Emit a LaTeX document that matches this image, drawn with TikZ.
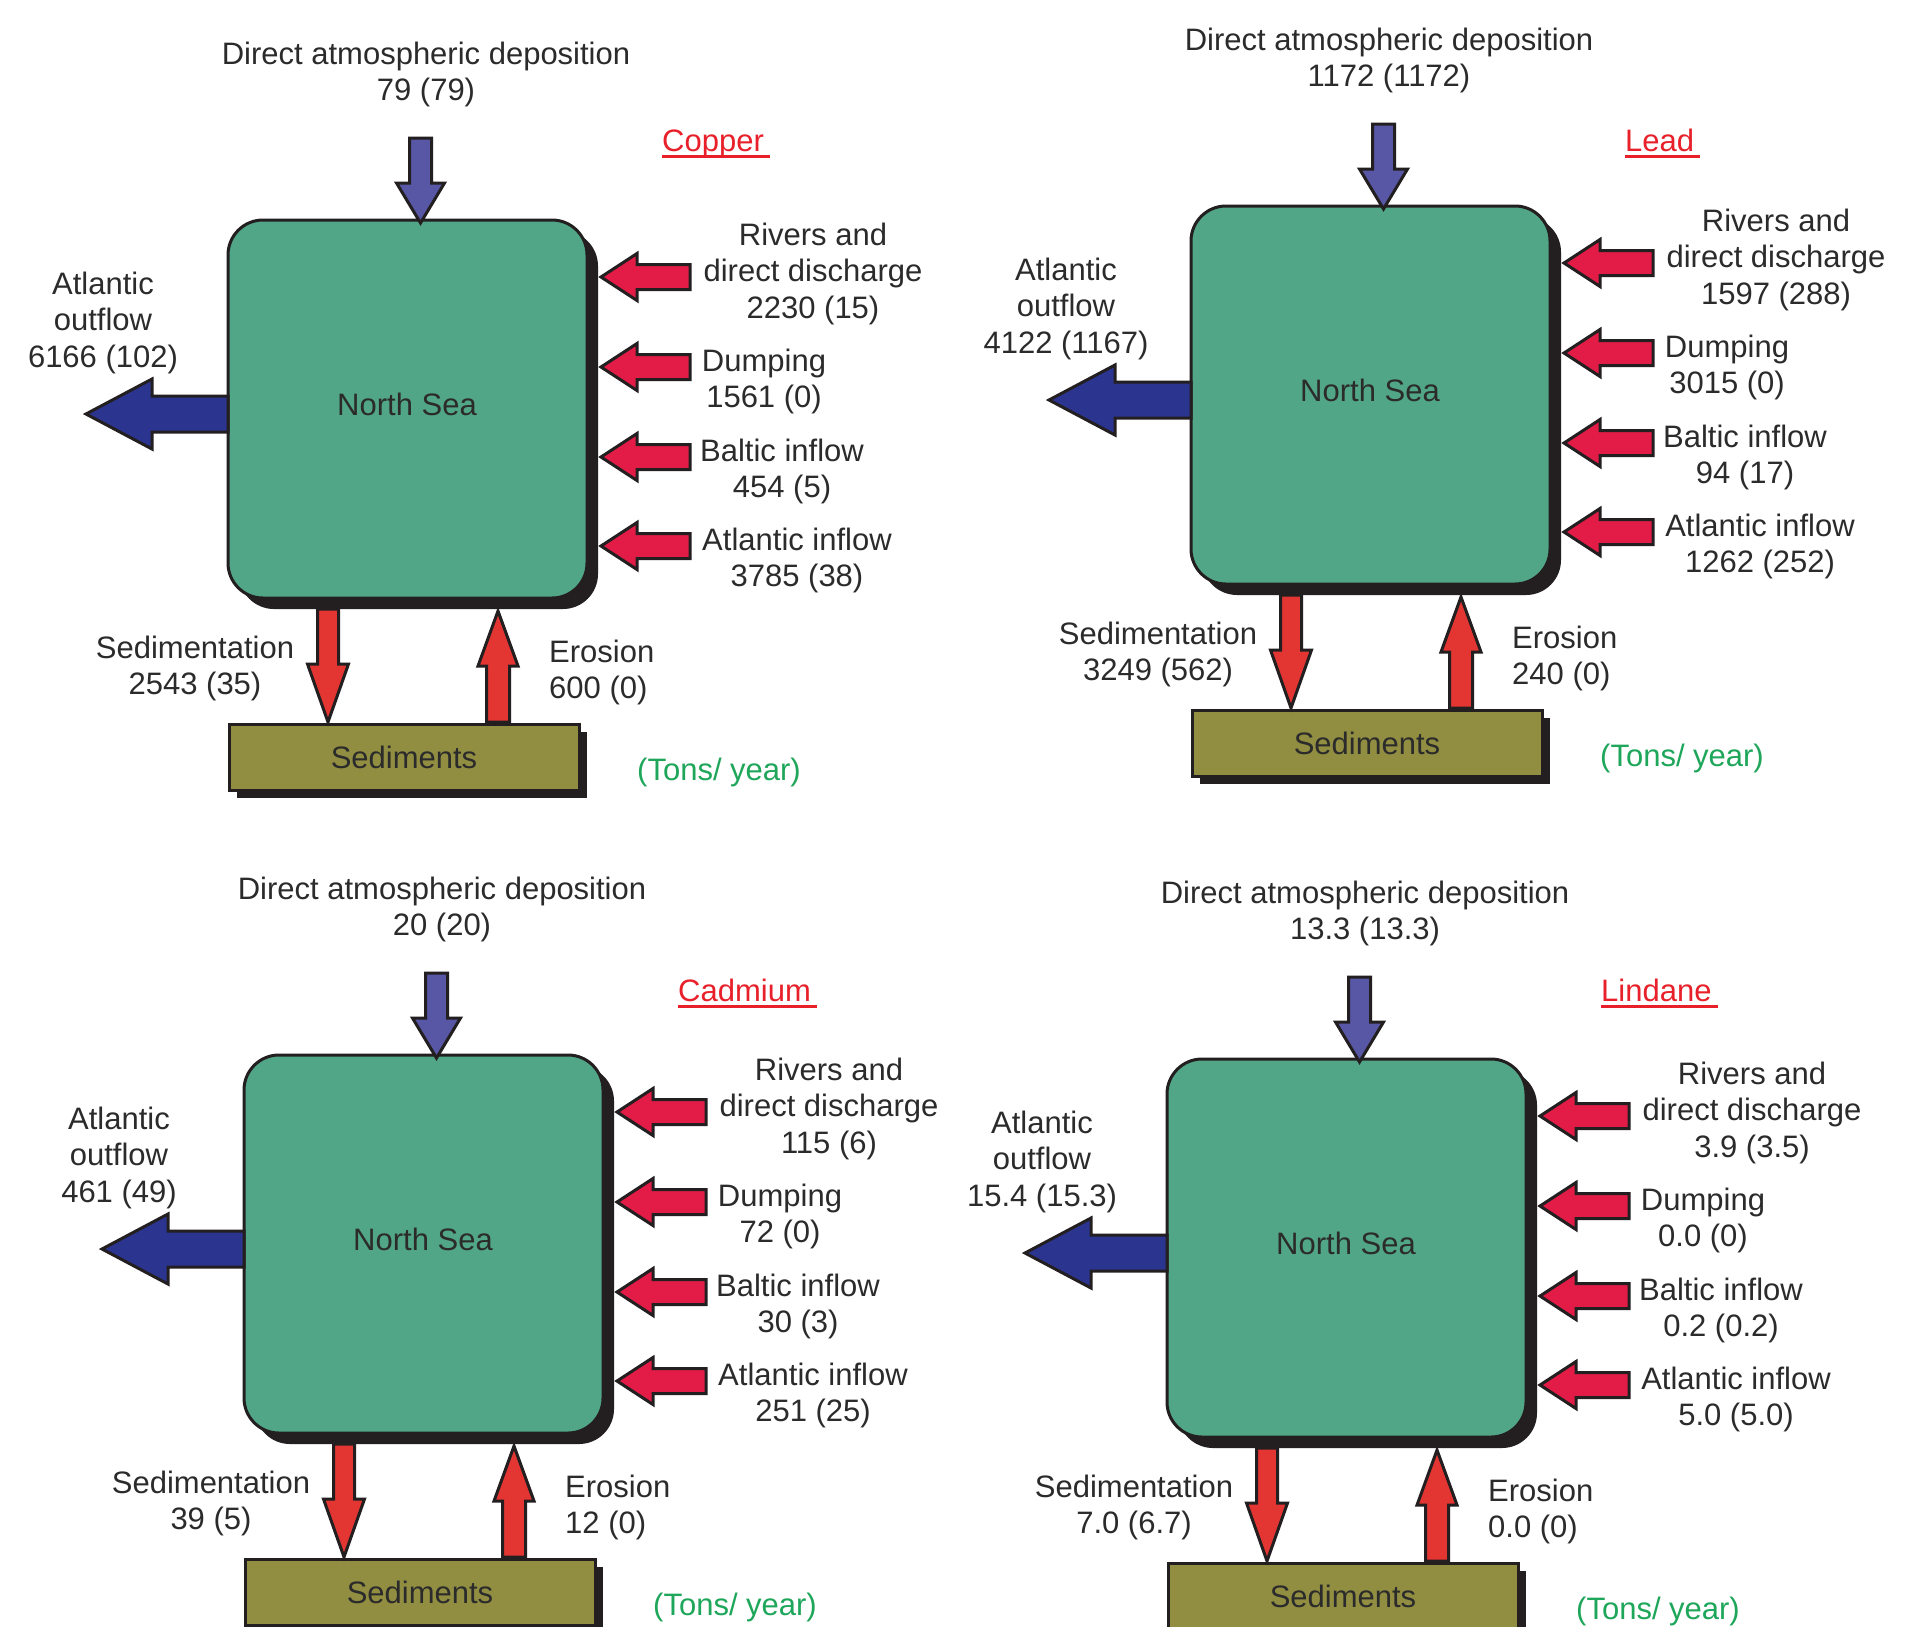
\documentclass[tikz,border=0pt]{standalone}
\usepackage{fontspec}
\setmainfont{Liberation Sans}
\usetikzlibrary{calc}
\definecolor{seagrn}{HTML}{52A688}
\definecolor{outl}{HTML}{231F20}
\definecolor{topblue}{HTML}{5757A5}
\definecolor{navyb}{HTML}{2B3590}
\definecolor{crims}{HTML}{E31C47}
\definecolor{sedred}{HTML}{E33633}
\definecolor{olv}{HTML}{918E42}
\definecolor{titred}{HTML}{E8202A}
\definecolor{tonsg}{HTML}{1EA65A}
\definecolor{txtc}{HTML}{2B2B2B}
\tikzset{
  txt/.style={font=\fontsize{31}{37}\selectfont, text=txtc, inner sep=0pt, anchor=base},
  seabox/.style={draw=outl, line width=3pt, fill=seagrn, rounded corners=35pt,
    minimum width=359pt, minimum height=378pt, inner sep=0pt},
  sedbox/.style={draw=outl, line width=3pt, fill=olv,
    minimum width=350pt, minimum height=66pt, inner sep=0pt},
  arr/.style={draw=outl, line width=3pt, line join=miter, fill=#1},
}
% block arrow: style, from, to, half shaft, half head, head length
\newcommand\barrow[6]{%
  \coordinate (bh) at ($(#3)!#6!(#2)$);
  \path[#1] ($(#2)!#4!90:(#3)$) -- ($(bh)!#4!90:(#3)$) -- ($(bh)!#5!90:(#3)$) -- (#3)
    -- ($(bh)!#5!-90:(#3)$) -- ($(bh)!#4!-90:(#3)$) -- ($(#2)!#4!-90:(#3)$) -- cycle;
}
% multi-line text: prefix, x, y of first baseline, anchor, list of lines
\newcommand\mlines[5]{%
  \foreach \lnx [count=\i] in {#5} {%
    \node[txt, anchor=#4] (#1-\i) at (#2, {#3+(\i-1)*36.5}) {\lnx};}%
}
% panel: prefix, x, y (box top-left), title, title baseline
\newcommand\panel[5]{%
\begin{scope}[shift={(#2,#3)}]
  \fill[outl, rounded corners=35pt] (11,11) rectangle (370,389);
  \node[seabox] (#1box) at (179.5,189) {};
  \node[txt] (#1ns) at (179,195) {North Sea};
  \fill[outl] (9,512) rectangle (359,578);
  \node[sedbox] (#1sed) at (176,537) {};
  \node[txt] (#1sedl) at (176,548) {Sediments};
  % deposition arrow
  \coordinate (#1d0) at (192.5,-82);
  \coordinate (#1d1) at (192.5,3);
  \barrow{arr=topblue}{#1d0}{#1d1}{11pt}{24pt}{40pt}
  % inflow arrows
  \foreach \yy [count=\k] in {57,147,237,326} {%
    \coordinate (#1i\k a) at (462,\yy);
    \coordinate (#1i\k b) at (373,\yy);
    \barrow{arr=crims}{#1i\k a}{#1i\k b}{12.5pt}{23.5pt}{36pt}
  }
  % Atlantic outflow
  \coordinate (#1o0) at (0,194);
  \coordinate (#1o1) at (-142,194);
  \barrow{arr=navyb}{#1o0}{#1o1}{18pt}{35pt}{66pt}
  % sedimentation and erosion
  \coordinate (#1s0) at (100,389);
  \coordinate (#1s1) at (100,502);
  \barrow{arr=sedred}{#1s0}{#1s1}{10.5pt}{20.5pt}{58pt}
  \coordinate (#1e0) at (270,502);
  \coordinate (#1e1) at (270,391);
  \barrow{arr=sedred}{#1e0}{#1e1}{11.5pt}{20pt}{55pt}
  % texts
  \mlines{#1dep}{198}{-156}{base}{Direct atmospheric deposition, \vDep}
  \node[txt, anchor=base west, text=titred] (#1tit) at (434,#5) {#4};
  \draw[titred, line width=3pt] ($(#1tit.base west)+(0,5)$) -- ($(#1tit.base east)+(6,5)$);
  \mlines{#1riv}{585}{25}{base}{Rivers and, direct discharge, \vRiv}
  \mlines{#1dum}{536}{151}{base}{Dumping, \vDum}
  \mlines{#1bal}{554}{241}{base}{Baltic inflow, \vBal}
  \mlines{#1ain}{569}{330}{base}{Atlantic inflow, \vAin}
  \mlines{#1out}{-125}{74}{base}{Atlantic, outflow, \vOut}
  \mlines{#1sdm}{-33}{438}{base}{Sedimentation, \vSed}
  \mlines{#1ero}{321}{442}{base west}{Erosion, \vEro}
  \node[txt, text=tonsg] (#1tons) at (491,560) {(Tons/ year)};
\end{scope}}
\begin{document}
\begin{tikzpicture}[x=1pt,y=-1pt]
\useasboundingbox (0,0) rectangle (1926,1626);
\fill[white] (0,0) rectangle (1926,1626);
% Copper
\def\vDep{79 (79)}\def\vRiv{2230 (15)}\def\vDum{1561 (0)}\def\vBal{454 (5)}
\def\vAin{3785 (38)}\def\vOut{6166 (102)}\def\vSed{2543 (35)}\def\vEro{600 (0)}
\panel{cu}{228}{220}{Copper}{-69}
% Lead
\def\vDep{1172 (1172)}\def\vRiv{1597 (288)}\def\vDum{3015 (0)}\def\vBal{94 (17)}
\def\vAin{1262 (252)}\def\vOut{4122 (1167)}\def\vSed{3249 (562)}\def\vEro{240 (0)}
\panel{pb}{1191}{206}{Lead}{-55}
% Cadmium
\def\vDep{20 (20)}\def\vRiv{115 (6)}\def\vDum{72 (0)}\def\vBal{30 (3)}
\def\vAin{251 (25)}\def\vOut{461 (49)}\def\vSed{39 (5)}\def\vEro{12 (0)}
\panel{cd}{244}{1055}{Cadmium}{-53.5}
% Lindane
\def\vDep{13.3 (13.3)}\def\vRiv{3.9 (3.5)}\def\vDum{0.0 (0)}\def\vBal{0.2 (0.2)}
\def\vAin{5.0 (5.0)}\def\vOut{15.4 (15.3)}\def\vSed{7.0 (6.7)}\def\vEro{0.0 (0)}
\panel{li}{1167}{1059}{Lindane}{-57.5}
\end{tikzpicture}
\end{document}
